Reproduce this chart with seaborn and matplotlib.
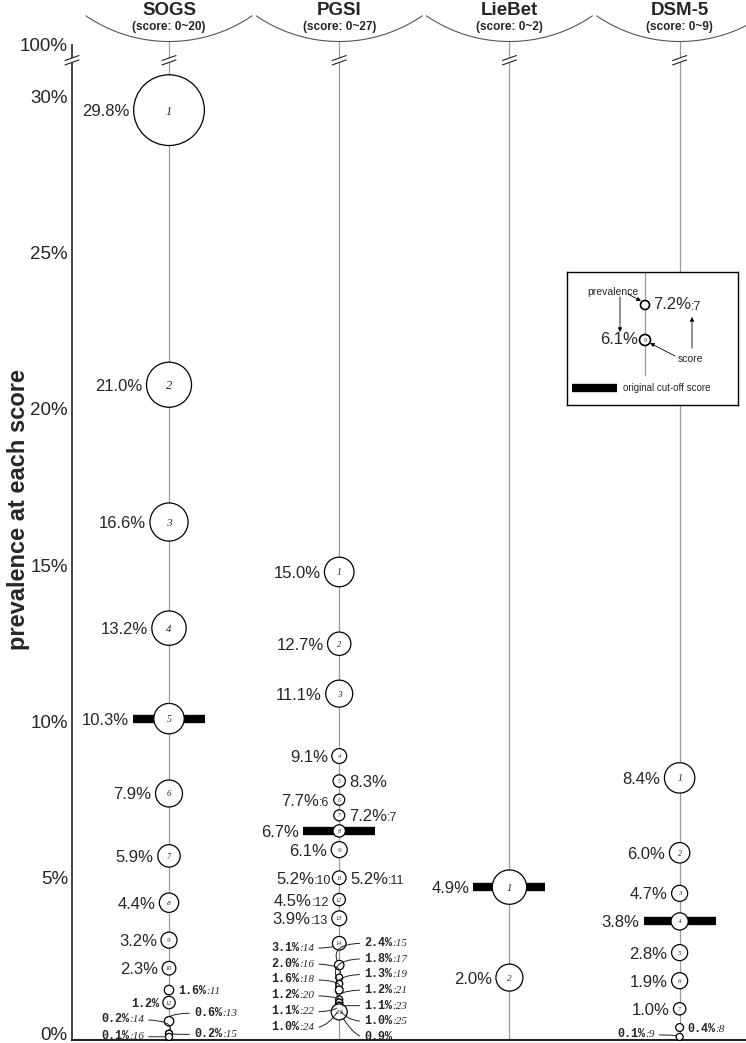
import numpy as np
import pandas as pd
import seaborn as sns
import matplotlib.pyplot as plt
import matplotlib.transforms as mtrans

# data (prevalence in % at each cut-off score)
instruments = ['SOGS', 'PGSI', 'LieBet', 'DSM-5']
score_range = ['(score: 0~20)', '(score: 0~27)', '(score: 0~2)', '(score: 0~9)']

sogs_prev = [29.8, 21.0, 16.6, 13.2, 10.3, 7.9, 5.9, 4.4, 3.2, 2.3, 1.6, 1.2, 0.6, 0.2, 0.2, 0.1]
pgsi_prev = [15.0, 12.7, 11.1, 9.1, 8.3, 7.7, 7.2, 6.7, 6.1, 5.2, 5.2, 4.5, 3.9,
             3.1, 2.4, 2.0, 1.8, 1.6, 1.3, 1.2, 1.2, 1.1, 1.1, 1.0, 1.0, 0.9]
liebet_prev = [4.9, 2.0]
dsm5_prev = [8.4, 6.0, 4.7, 3.8, 2.8, 1.9, 1.0, 0.4, 0.1]
cutoff_score = [5, 8, 1, 4]

ytick_vals = [0, 5, 10, 15, 20, 25, 30]
ytick_text = ['0%', '5%', '10%', '15%', '20%', '25%', '30%']

# label layout: side of the circle, and style
# b = value, m = value + ':score', s = small typewriter value + ':score', t = small value only
sides = ['LLLLLLLLLLRLRLRL',
         'LLLLRLRLLLRLL' + 'LRLRLRLRLRLR' + 'R',
         'LL',
         'LLLLLLLRL']
kinds = ['bbbbbbbbbb' + 'stssss',
         'bbbbbmmbbmmmm' + 's' * 12 + 't',
         'bb',
         'bbbbbbbss']
# labels moved away from crowded circles (text y position, joined by a leader line)
leaders = [{13: 0.9, 14: 0.7, 15: 0.22, 16: 0.16},
           {},
           {},
           {9: 0.22}]
for k, s in enumerate(range(14, 25, 2)):
    leaders[1][s] = 3.0 - 0.51 * k
for k, s in enumerate([15, 17, 19, 21, 23, 25, 26]):
    leaders[1][s] = 3.14 - 0.5 * k

# ---- geometry ----
DPI = 100
XLIM = (-0.57, 3.39)
YTOP = 33.33
PX_X = 674 / (XLIM[1] - XLIM[0])
PX_Y = 1040 / YTOP
AXIS_TOP = 31.9
ARC_Y = 32.0
BREAK_Y = 31.4
BAR_PX = 36
LEAD_PX = 25


def pt(px):
    return px * 72 / DPI


sns.set_theme(style='white')
plt.rcParams['font.family'] = ['Liberation Sans', 'DejaVu Sans']

fig = plt.figure(figsize=(7.46, 10.43), dpi=DPI)
ax = fig.add_axes([72 / 746, 3 / 1043, 674 / 746, 1040 / 1043])
ax.set_xlim(*XLIM)
ax.set_ylim(0, YTOP)

prev_lists = [sogs_prev, pgsi_prev, liebet_prev, dsm5_prev]
rows = []
for i, prev in enumerate(prev_lists):
    p = np.array(prev)
    step = p - np.append(p[1:], 0)          # share at exactly this score
    r = np.maximum(3.5, 8.6 * step ** 0.65)
    for k in range(len(p)):
        rows.append(dict(inst=instruments[i], col=i, score=k + 1, prev=p[k], r=r[k]))
df = pd.DataFrame(rows)
df['s'] = (2 * pt(df['r'])) ** 2

# vertical guide lines, arcs and headers
dx = np.linspace(-83, 83, 120)
dy = 147 - np.sqrt(147 ** 2 - dx ** 2)
for i, name in enumerate(instruments):
    ax.plot([i, i], [0, ARC_Y], color='#9a9a9a', lw=0.9, zorder=1)
    ax.plot(i + dx / PX_X, ARC_Y + dy / PX_Y, color='#555555', lw=0.8, clip_on=False)
    ax.text(i, 33.0, name, ha='center', va='center', fontsize=13.5, fontweight='bold')
    ax.text(i, 32.47, score_range[i], ha='center', va='center', fontsize=8.5, fontweight='bold')


def break_mark(x, y):
    w, h, g = 7 / PX_X, 2.5 / PX_Y, 2.2 / PX_Y
    ax.plot([x, x], [y - g, y + g], color='white', lw=3, zorder=6, clip_on=False,
            solid_capstyle='butt')
    for d in (-g, g):
        ax.plot([x - w, x + w], [y + d - h, y + d + h], color='#222222', lw=0.8,
                zorder=7, clip_on=False)


for i in range(len(instruments)):
    break_mark(i, BREAK_Y)
break_mark(XLIM[0], BREAK_Y)

# cut-off bars
for i, prev in enumerate(prev_lists):
    v = prev[cutoff_score[i] - 1]
    ax.plot([i - BAR_PX / PX_X, i + BAR_PX / PX_X], [v, v], color='black', lw=6,
            solid_capstyle='butt', zorder=2)

sns.scatterplot(data=df, x='col', y='prev', size='s',
                sizes=(df['s'].min(), df['s'].max()),
                size_norm=(df['s'].min(), df['s'].max()),
                color='white', edgecolor='black', linewidth=0.9, legend=False,
                zorder=3, ax=ax, clip_on=False)

for _, row in df.iterrows():
    if row['r'] >= 5:
        ax.text(row['col'], row['prev'], str(row['score']), ha='center',
                va='center_baseline', fontsize=min(9, 2.5 + 0.3 * row['r']),
                family='Liberation Serif', style='italic', zorder=4)

MAIN = dict(family='Liberation Sans', fontsize=12)
MID_SUF = dict(family='Liberation Sans', fontsize=9)
MONO = dict(family='Liberation Mono', fontsize=8.5, fontweight='bold')
MONO_SUF = dict(family='Liberation Serif', fontsize=8, style='italic')


def add_label(a, x, y, r, value, side, kind, score, label_y=None, bar=False):
    text = f'{value:.1f}%'
    main_fp = MONO if kind in 'st' else MAIN
    suf_fp = MONO_SUF if kind == 's' else MID_SUF
    suffix = f':{score}' if kind in 'ms' else None
    left = side == 'L'
    sgn = -1 if left else 1
    base = -0.36 * main_fp['fontsize']      # baseline below the centre, in points
    if label_y is None:
        edge = max(r, BAR_PX) if bar else r
        pos = dict(xytext=(sgn * pt(edge + 4), base), textcoords='offset points')
        arrow = None
        ybase, yoff = y, base
    else:
        ly = label_y + (base * DPI / 72) / PX_Y
        pos = dict(xytext=(x + sgn * LEAD_PX / PX_X, ly), textcoords='data')
        arrow = dict(arrowstyle='-', color='#222222', lw=0.7, shrinkA=1, shrinkB=pt(r),
                     relpos=(1 if left else 0, 0.5),
                     connectionstyle='angle3,angleA=0,angleB=%d' % (60 if left else 120))
        ybase, yoff = ly, 0
    if left and suffix:
        first = a.annotate(suffix, xy=(x, y), ha='right', va='baseline',
                           arrowprops=arrow, zorder=5, **pos, **suf_fp)
        a.annotate(text, xy=(0, ybase), xycoords=(first, 'data'), xytext=(0, yoff),
                   textcoords='offset points', ha='right', va='baseline', **main_fp)
    else:
        first = a.annotate(text, xy=(x, y), ha='right' if left else 'left', va='baseline',
                           arrowprops=arrow, zorder=5, **pos, **main_fp)
        if suffix:
            a.annotate(suffix, xy=(1, ybase), xycoords=(first, 'data'), xytext=(0, yoff),
                       textcoords='offset points', ha='left', va='baseline', **suf_fp)


for _, row in df.iterrows():
    i, k = row['col'], row['score']
    add_label(ax, i, row['prev'], row['r'], row['prev'], sides[i][k - 1], kinds[i][k - 1], k,
              label_y=leaders[i].get(k), bar=(k == cutoff_score[i]))

# axes
for s in ['top', 'right']:
    ax.spines[s].set_visible(False)
ax.spines['left'].set_bounds(0, AXIS_TOP)
ax.spines['left'].set_color('#444444')
ax.spines['left'].set_linewidth(1.4)
ax.spines['bottom'].set_color('#222222')
ax.spines['bottom'].set_linewidth(1.5)
ax.set_xticks([])
ax.set_yticks(ytick_vals + [AXIS_TOP])
ax.set_yticklabels(ytick_text + ['100%'])
ax.tick_params(axis='y', length=0, pad=3, labelsize=13.5)
shift = mtrans.ScaledTranslation(0, 5 / 72, fig.dpi_scale_trans)
for lab in ax.get_yticklabels()[:-1]:
    lab.set_transform(lab.get_transform() + shift)
ax.set_xlabel('')
ax.set_ylabel('prevalence at each score', fontsize=17, fontweight='bold')
ax.yaxis.set_label_coords(-0.062, 0.51)

# legend box
lg = fig.add_axes([567 / 746, 1 - 405 / 1043, 171 / 746, 133 / 1043])
lg.set_xlim(0, 171)
lg.set_ylim(133, 0)
lg.set_xticks([])
lg.set_yticks([])
lg.set_facecolor('white')
for s in lg.spines.values():
    s.set_color('black')
    s.set_linewidth(1)
lg.plot([78, 78], [0, 103], color='#9a9a9a', lw=0.9, zorder=1)
lg.scatter([78, 78], [33, 68], s=[(2 * pt(4.5)) ** 2, (2 * pt(5.5)) ** 2],
           facecolor='white', edgecolor='black', linewidth=1.2, zorder=3)
lg.text(78, 68, '9', ha='center', va='center_baseline', fontsize=4.5,
        family='Liberation Serif', style='italic', zorder=4)
lg.text(86, 33, f'{pgsi_prev[6]:.1f}%', ha='left', va='center', fontsize=12)
lg.text(124, 35.5, ':7', ha='left', va='center', fontsize=9)
lg.text(71, 68, f'{pgsi_prev[8]:.1f}%', ha='right', va='center', fontsize=12)
lg.text(46, 20, 'prevalence', ha='center', va='center', fontsize=7.5)
lg.text(123, 87, 'score', ha='center', va='center', fontsize=7.5)
arr = dict(arrowstyle='-|>', color='black', lw=0.6, mutation_scale=6, shrinkA=0, shrinkB=0)
lg.annotate('', xy=(74, 29), xytext=(61, 22), arrowprops=arr)
lg.annotate('', xy=(53, 60), xytext=(53, 25), arrowprops=arr)
lg.annotate('', xy=(83, 71), xytext=(108, 84), arrowprops=arr)
lg.annotate('', xy=(125, 45), xytext=(125, 76), arrowprops=arr)
lg.plot([5, 50], [116, 116], color='black', lw=6, solid_capstyle='butt')
lg.text(56, 116, 'original cut-off score', ha='left', va='center', fontsize=7)

fig.savefig('out.png', dpi=DPI)
